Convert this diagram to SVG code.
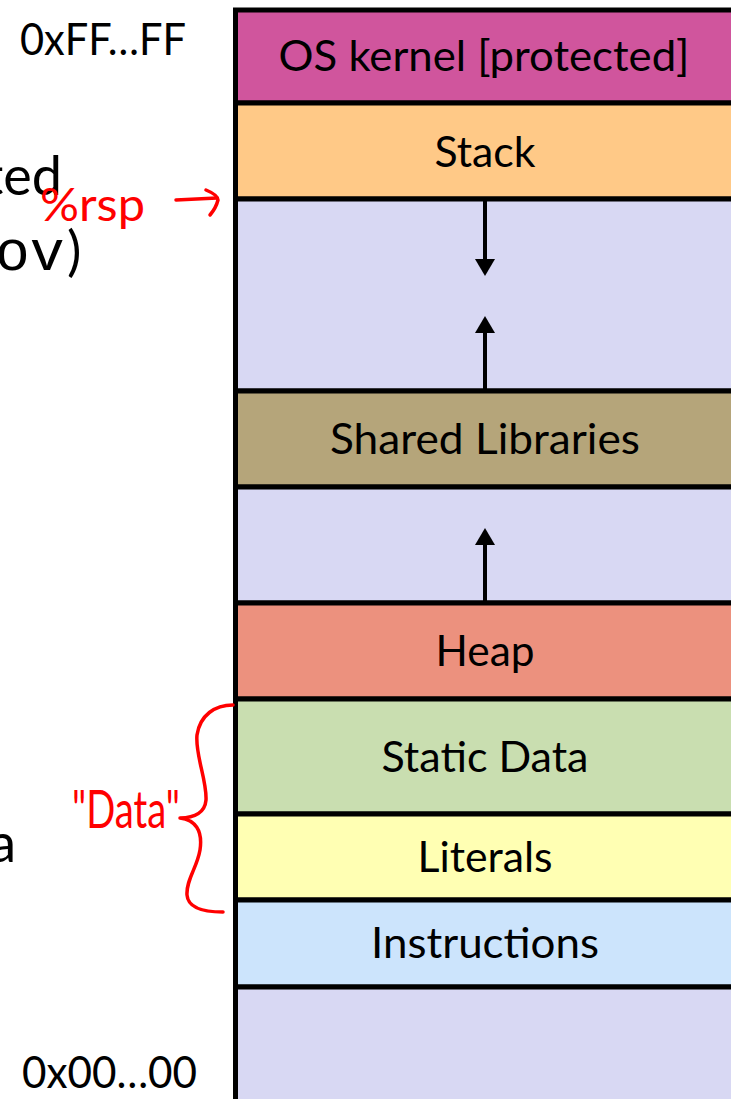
<svg xmlns="http://www.w3.org/2000/svg" width="731" height="1099" viewBox="0 0 731 1099">
  <style>
    .band { stroke: #000; stroke-width: 5; }
    .lbl { font-family: Lato, "Liberation Sans", sans-serif; font-size: 42px; fill: #000; text-anchor: middle; }
    .side { font-family: Lato, "Liberation Sans", sans-serif; font-size: 44px; fill: #000; }
    .big { font-family: Lato, "Liberation Sans", sans-serif; font-size: 54px; fill: #000; }
    .mono { font-family: "Liberation Mono", "Courier New", monospace; font-size: 58px; fill: #000; }
    .ink { font-family: Lato, "Liberation Sans", sans-serif; fill: #FF0000; }
    .inkline { fill: none; stroke: #FF0000; stroke-width: 3.5; stroke-linecap: round; stroke-linejoin: round; }
    .arrow { stroke: #000; stroke-width: 4; fill: none; }
  </style>
  <defs>
    <marker id="head" markerUnits="userSpaceOnUse" markerWidth="18" markerHeight="20" refX="0" refY="10" orient="auto">
      <path d="M0,0 L17,10 L0,20 z" fill="#000"/>
    </marker>
  </defs>

  <rect width="731" height="1099" fill="#FFFFFF"/>

  <!-- side text lines (partly cut at the left edge) -->
  <text class="big" x="62" y="195" text-anchor="end">ted</text>
  <text class="mono" x="-5" y="270">ov</text>
  <text class="big" x="67" y="270">)</text>
  <text class="big" x="16" y="862" text-anchor="end">a</text>

  <!-- address labels -->
  <text class="side" x="20" y="55" textLength="166" lengthAdjust="spacingAndGlyphs">0xFF…FF</text>
  <text class="side" x="22" y="1088" textLength="175" lengthAdjust="spacingAndGlyphs">0x00…00</text>

  <!-- memory layout column -->
  <g id="os-kernel">
    <rect class="band" x="235.5" y="10" width="510" height="93" fill="#D0559D"/>
    <text class="lbl" x="484" y="71" textLength="411" lengthAdjust="spacingAndGlyphs">OS kernel [protected]</text>
  </g>
  <g id="stack">
    <rect class="band" x="235.5" y="103" width="510" height="96" fill="#FFC987"/>
    <text class="lbl" x="485" y="167" textLength="101" lengthAdjust="spacingAndGlyphs">Stack</text>
  </g>
  <g id="gap-upper">
    <rect class="band" x="235.5" y="199" width="510" height="192" fill="#D8D8F3"/>
  </g>
  <g id="shared-libraries">
    <rect class="band" x="235.5" y="391" width="510" height="96" fill="#B5A57A"/>
    <text class="lbl" x="485" y="454" textLength="310" lengthAdjust="spacingAndGlyphs">Shared Libraries</text>
  </g>
  <g id="gap-lower">
    <rect class="band" x="235.5" y="487" width="510" height="116" fill="#D8D8F3"/>
  </g>
  <g id="heap">
    <rect class="band" x="235.5" y="603" width="510" height="96" fill="#EC917E"/>
    <text class="lbl" x="485" y="666" textLength="99" lengthAdjust="spacingAndGlyphs">Heap</text>
  </g>
  <g id="static-data">
    <rect class="band" x="235.5" y="699" width="510" height="115" fill="#C9DEB0"/>
    <text class="lbl" x="485" y="772" textLength="207" lengthAdjust="spacingAndGlyphs">Static Data</text>
  </g>
  <g id="literals">
    <rect class="band" x="235.5" y="814" width="510" height="86" fill="#FFFFB3"/>
    <text class="lbl" x="485" y="872" textLength="135" lengthAdjust="spacingAndGlyphs">Literals</text>
  </g>
  <g id="instructions">
    <rect class="band" x="235.5" y="900" width="510" height="87" fill="#CCE4FC"/>
    <text class="lbl" x="485" y="958" textLength="228" lengthAdjust="spacingAndGlyphs">Instructions</text>
  </g>
  <g id="gap-bottom">
    <rect class="band" x="235.5" y="987" width="510" height="130" fill="#D8D8F3"/>
  </g>

  <!-- growth arrows -->
  <g id="connectors">
    <line class="arrow" x1="485" y1="201" x2="485" y2="259" marker-end="url(#head)"/>
    <line class="arrow" x1="485" y1="389" x2="485" y2="333" marker-end="url(#head)"/>
    <line class="arrow" x1="485" y1="601" x2="485" y2="545" marker-end="url(#head)"/>
  </g>

  <!-- red annotations -->
  <g id="rsp-note">
    <text class="ink" x="40" y="221" font-size="46" textLength="105" lengthAdjust="spacingAndGlyphs">%rsp</text>
    <path class="inkline" d="M176,200 L217,198"/>
    <path class="inkline" d="M206,190 Q218,195 218,200 Q216,208 210,215"/>
  </g>
  <g id="data-note">
    <text class="ink" x="72" y="828" font-size="52" textLength="108" lengthAdjust="spacingAndGlyphs">"Data"</text>
    <path class="inkline" d="M233,705 C215,705 200,715 197,735 C195,755 207,780 206,800 C205,812 195,818 180,818 C195,820 203,830 200,850 C197,868 186,880 187,895 C188,908 205,912 223,912"/>
  </g>
</svg>
